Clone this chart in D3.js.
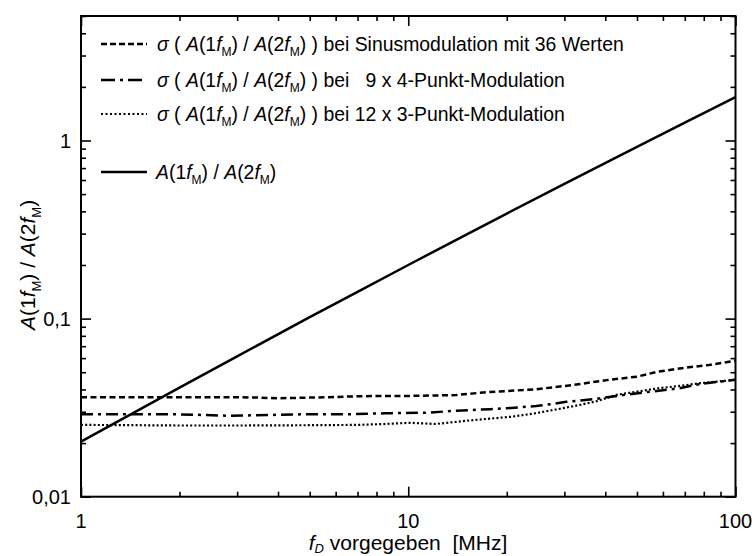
<!DOCTYPE html>
<html>
<head>
<meta charset="utf-8">
<script src="https://cdn.jsdelivr.net/npm/d3@7"></script>
<style>
  html, body { margin: 0; padding: 0; background: #fff; }
  svg { display: block; }
  text { font-family: "Liberation Sans", Arial, sans-serif; fill: #000; white-space: pre; }
</style>
</head>
<body>
<svg id="chart" width="752" height="556"></svg>
<script>
// ---------- data ----------
const solidF = [1, 2, 3, 5, 7, 10, 15, 20, 30, 50, 70, 100];
const solidV = [0.0204, 0.0410, 0.0614, 0.1019, 0.1414, 0.200, 0.2954, 0.389, 0.571, 0.922, 1.26, 1.75];

const sinusF = [1, 2, 3, 3.5, 4, 5, 7, 8.5, 10, 12, 14, 17, 20, 24.6, 32, 41, 50, 58, 72, 83, 100];
const sinusV = [0.0362, 0.0362, 0.0362, 0.0360, 0.0357, 0.0360, 0.0366, 0.0368, 0.0368, 0.0370, 0.0372, 0.0385, 0.0392, 0.0401, 0.0424, 0.0453, 0.0472, 0.0504, 0.0533, 0.0549, 0.0580];

const p4F = [1, 2, 2.8, 3.2, 4.7, 6.3, 8.5, 11.4, 14.0, 17.8, 20.6, 24.6, 27.8, 30.4, 37.3, 45.8, 55, 67.4, 78.2, 100];
const p4V = [0.0290, 0.0290, 0.0285, 0.0286, 0.0290, 0.0290, 0.0294, 0.0296, 0.0304, 0.0310, 0.0315, 0.0323, 0.0332, 0.0341, 0.0354, 0.0373, 0.0389, 0.0406, 0.0430, 0.0453];

const p3F = [1, 1.5, 2, 3, 5, 7, 8.5, 10.1, 12.1, 15.4, 20.6, 23.9, 27.8, 32.2, 37.3, 43.3, 50, 58, 67.4, 78.2, 100];
const p3V = [0.0253, 0.0252, 0.0251, 0.0251, 0.0252, 0.0253, 0.0256, 0.0260, 0.0256, 0.0268, 0.0281, 0.0292, 0.0307, 0.0323, 0.0342, 0.0373, 0.0389, 0.0406, 0.0419, 0.0434, 0.0453];

const xMajorTicks = [1, 10, 100];
const xTickLabels = ["1", "10", "100"];
const yMajorTicks = [0.01, 0.1, 1];
const yTickLabels = ["0,01", "0,1", "1"];

const legendRows = [
  { dash: "6,3", tail: " bei Sinusmodulation mit 36 Werten" },
  { dash: "14,5,3,5", tail: " bei   9 x 4-Punkt-Modulation" },
  { dash: "2,2.5", tail: " bei 12 x 3-Punkt-Modulation" }
];

// ---------- layout ----------
const svg = d3.select("#chart");
const L = 81, R = 735.5, T = 16, B = 496.7;
const x = d3.scaleLog().domain([1, 100]).range([L, R]);
const y = d3.scaleLog().domain([0.01, 5]).range([B, T]);

const minorX = [];
[1, 10].forEach(d => { for (let k = 2; k <= 9; k++) minorX.push(d * k); });
const minorY = [];
[0.01, 0.1, 1].forEach(d => { for (let k = 2; k <= 9; k++) if (d * k <= 5) minorY.push(d * k); });

function axisGroup(axis, tx, ty) {
  const g = svg.append("g").attr("transform", `translate(${tx},${ty})`).call(axis);
  g.select(".domain").remove();
  g.selectAll(".tick line").attr("stroke", "#000").attr("stroke-width", 1.6);
  g.selectAll(".tick text").remove();
  return g;
}
axisGroup(d3.axisBottom(x).tickValues(xMajorTicks).tickSize(-10), 0, B);
axisGroup(d3.axisBottom(x).tickValues(minorX).tickSize(-5), 0, B);
axisGroup(d3.axisTop(x).tickValues(xMajorTicks).tickSize(-10), 0, T);
axisGroup(d3.axisTop(x).tickValues(minorX).tickSize(-5), 0, T);
axisGroup(d3.axisLeft(y).tickValues(yMajorTicks).tickSize(-10), L, 0);
axisGroup(d3.axisLeft(y).tickValues(minorY).tickSize(-5), L, 0);
axisGroup(d3.axisRight(y).tickValues(yMajorTicks).tickSize(-10), R, 0);
axisGroup(d3.axisRight(y).tickValues(minorY).tickSize(-5), R, 0);

// tick labels
svg.selectAll(".xl").data(xMajorTicks).enter().append("text")
  .attr("x", d => x(d)).attr("y", 528).attr("text-anchor", "middle")
  .attr("font-size", 20).text((d, i) => xTickLabels[i]);
svg.selectAll(".yl").data(yMajorTicks).enter().append("text")
  .attr("x", 71).attr("y", d => y(d)).attr("dy", "0.36em").attr("text-anchor", "end")
  .attr("font-size", 20).text((d, i) => yTickLabels[i]);

// frame
svg.append("rect").attr("x", L).attr("y", T).attr("width", R - L).attr("height", B - T)
  .attr("fill", "none").attr("stroke", "#000").attr("stroke-width", 2);

// curves
const line = d3.line().x(d => x(d[0])).y(d => y(d[1]));
function series(F, V) { return F.map((f, i) => [f, V[i]]); }
const plot = svg.append("g");
plot.append("path").attr("d", line(series(sinusF, sinusV)))
  .attr("fill", "none").attr("stroke", "#000").attr("stroke-width", 2.5).attr("stroke-dasharray", "6,3.5");
plot.append("path").attr("d", line(series(p4F, p4V)))
  .attr("fill", "none").attr("stroke", "#000").attr("stroke-width", 2.5).attr("stroke-dasharray", "12,5,3,5");
plot.append("path").attr("d", line(series(p3F, p3V)))
  .attr("fill", "none").attr("stroke", "#000").attr("stroke-width", 2.2).attr("stroke-dasharray", "2,2.2");
plot.append("path").attr("d", line(series(solidF, solidV)))
  .attr("fill", "none").attr("stroke", "#000").attr("stroke-width", 2.5);

// rich text helper: subscripts shift down, following text shifts back up
function rich(sel, parts, size, subShift) {
  const sub = Math.round(size * 0.6);
  const sh = subShift !== undefined ? subShift : size * 0.28;
  let shifted = false;
  parts.forEach(p => {
    const ts = sel.append("tspan").attr("font-style", p.i ? "italic" : null);
    if (p.s) {
      ts.attr("font-size", sub).attr("dy", sh).text(p.s);
      shifted = true;
    } else {
      if (shifted) { ts.attr("dy", -sh); shifted = false; }
      ts.text(p.t);
    }
  });
}
const ratioParts = [
  { t: "A", i: 1 }, { t: "(1" }, { t: "f", i: 1 }, { s: "M" }, { t: ") / " },
  { t: "A", i: 1 }, { t: "(2" }, { t: "f", i: 1 }, { s: "M" }, { t: ")" }
];

// legend
const lx0 = 101, lx1 = 147, ltx = 157, lfs = 19.4;
const rowY = [44, 80, 114];
legendRows.forEach((r, i) => {
  svg.append("line").attr("x1", lx0).attr("x2", lx1).attr("y1", rowY[i]).attr("y2", rowY[i])
    .attr("stroke", "#000").attr("stroke-width", i === 2 ? 2 : 2.5).attr("stroke-dasharray", r.dash);
  const t = svg.append("text").attr("x", ltx).attr("y", rowY[i]).attr("dy", "0.36em").attr("font-size", lfs);
  rich(t, [{ t: "\u03C3", i: 1 }, { t: " ( " }].concat(ratioParts).concat([{ t: " )" + r.tail }]), lfs);
});
svg.append("line").attr("x1", lx0).attr("x2", lx1).attr("y1", 172).attr("y2", 172)
  .attr("stroke", "#000").attr("stroke-width", 2.5);
const t4 = svg.append("text").attr("x", ltx - 1).attr("y", 172).attr("dy", "0.36em").attr("font-size", lfs);
rich(t4, ratioParts.concat([{ t: " " }]), lfs);

// axis titles
const xt = svg.append("text").attr("x", 408).attr("y", 550).attr("text-anchor", "middle").attr("font-size", 21);
rich(xt, [{ t: "f", i: 1 }, { s: "D", i: 1 }, { t: " vorgegeben  [MHz]" }], 21, 3);

const yt = svg.append("text").attr("transform", "translate(35,262) rotate(-90)")
  .attr("text-anchor", "middle").attr("font-size", 21);
rich(yt, ratioParts.concat([{ t: " " }]), 21);
</script>
</body>
</html>
